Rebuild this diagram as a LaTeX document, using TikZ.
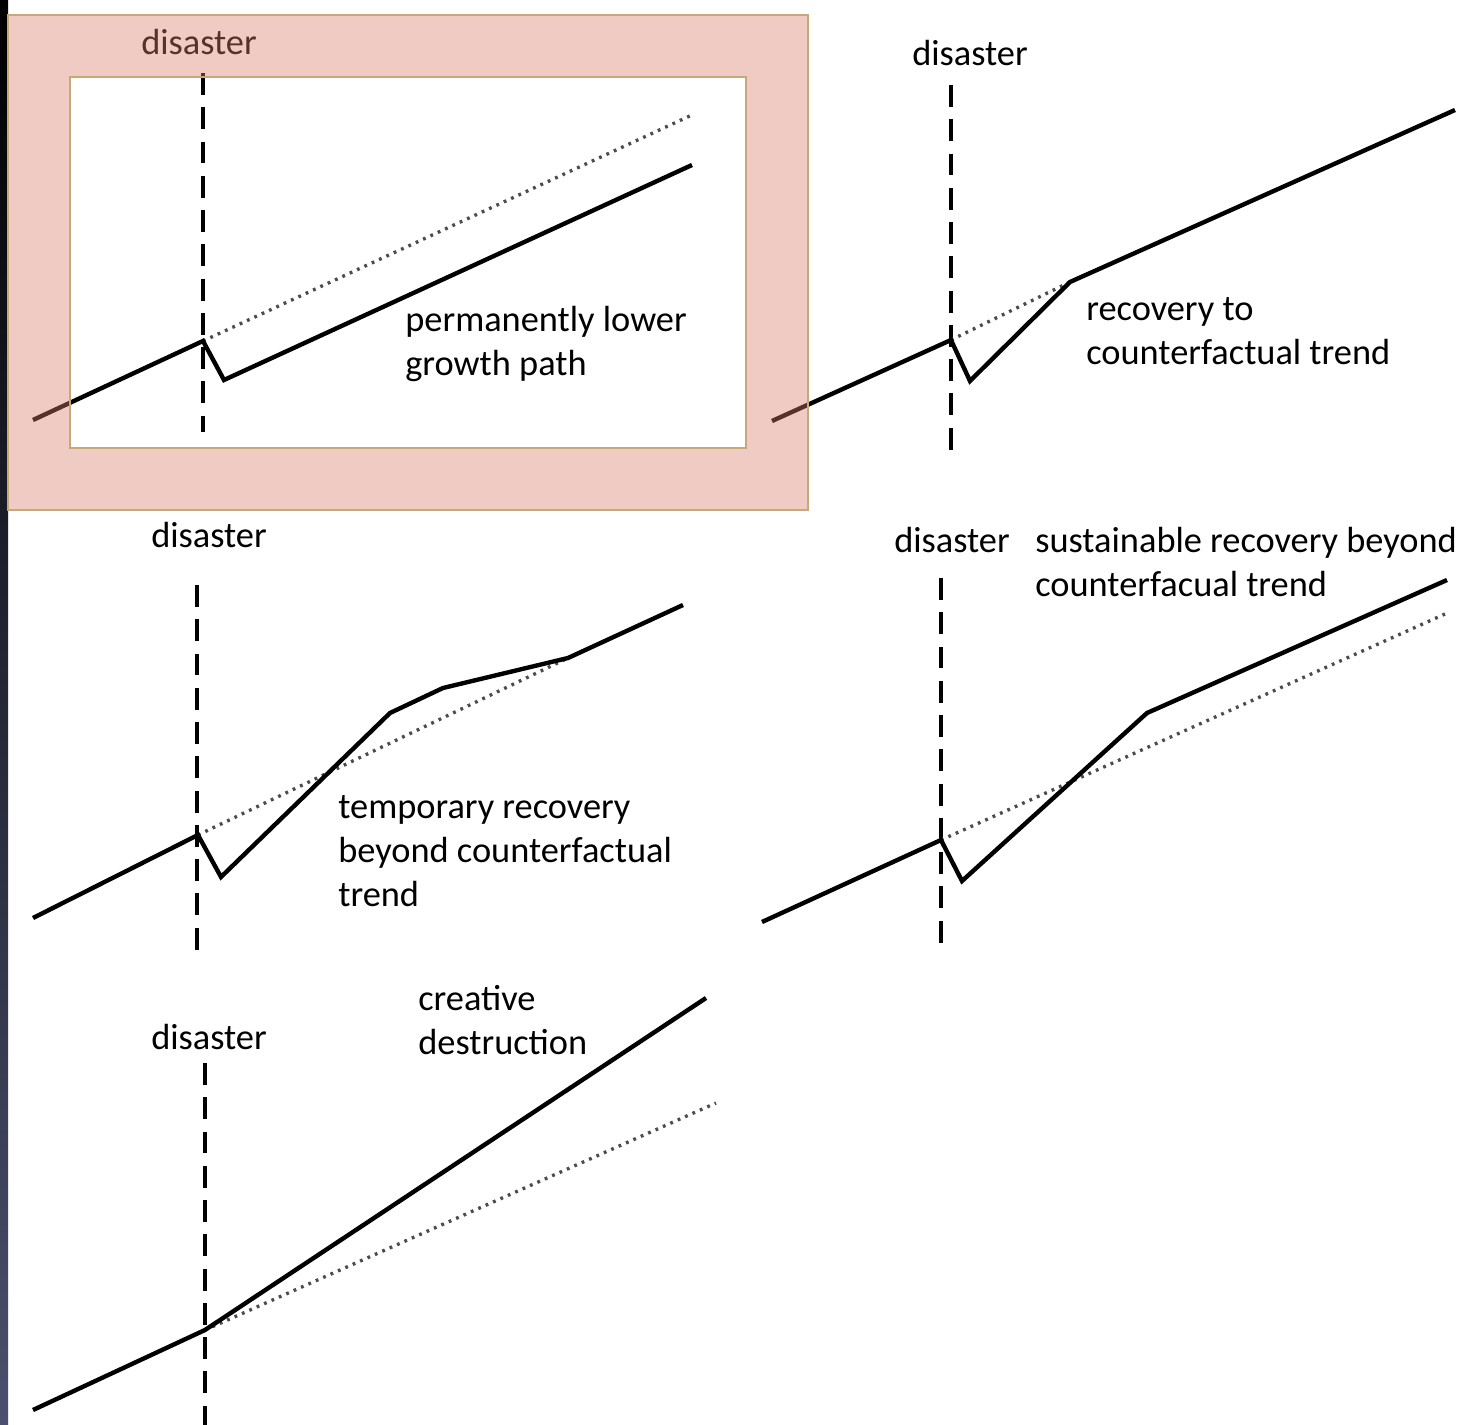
\documentclass[tikz,border=0pt]{standalone}
\usepackage{fontspec}
\setmainfont{Carlito}
\usetikzlibrary{positioning}

\definecolor{framepink}{RGB}{215,125,105}
\definecolor{frametan}{RGB}{200,168,120}
\definecolor{stripbot}{RGB}{75,80,110}

\begin{document}
\begin{tikzpicture}[
        x=0.02cm, y=-0.02cm,
        every node/.style={font=\fontsize{20.7}{25}\selectfont, inner sep=0pt},
        note/.style={align=left, anchor=north west},
        growth/.style={line width=2.5pt},
        trend/.style={line width=1.9pt, dash pattern=on 1.6pt off 3pt, black!70},
        shock/.style={line width=2.1pt, dash pattern=on 12.5pt off 7pt}
        ]
        \useasboundingbox (0,0) rectangle (1478,1425);
        \shade[top color=black, bottom color=stripbot] (0,0) rectangle (8,1425);

        % permanently lower growth path
        \coordinate (d1) at (203,341);
        \draw[shock] (203,73) -- (203,432);
        \draw[trend] (d1) -- (694,114);
        \draw[growth] (33,420) -- (d1) -- (224,380) -- (692,165);
        \node (dis1) at (199,42) {disaster};
        \node[note] (txt1) at (405,306) {permanently lower\\growth path};

        % recovery to trend
        \coordinate (d2) at (951,340);
        \coordinate (j2) at (1070,282);
        \draw[shock] (951,85) -- (951,450);
        \draw[trend] (d2) -- (j2);
        \draw[growth] (772,421) -- (d2) -- (970,381) -- (j2) -- (1455,110);
        \node (dis2) at (970,53) {disaster};
        \node[note] (txt2) at (1086,297) {recovery to\\counterfactual trend};

        % temporary recovery
        \coordinate (d3) at (198,835);
        \coordinate (j3) at (568,658);
        \draw[shock] (197,585) -- (197,955);
        \draw[trend] (d3) -- (j3);
        \draw[growth] (33,918) -- (d3) -- (221,877) -- (390,713) -- (443,688) -- (j3) -- (683,605);
        \node (dis3) at (209,535) {disaster};
        \node[note] (txt3) at (338,795) {temporary recovery\\beyond counterfactual\\trend};

        % sustainable recovery
        \coordinate (d4) at (941,840);
        \draw[shock] (941,578) -- (941,952);
        \draw[trend] (d4) -- (1445,614);
        \draw[growth] (762,922) -- (d4) -- (962,881) -- (1147,713) -- (1447,580);
        \node (dis4) at (952,540) {disaster};
        \node[note] (txt4) at (1035,527) {sustainable recovery beyond\\counterfacual trend};

        % creative destruction
        \coordinate (d5) at (205,1330);
        \draw[shock] (205,1063) -- (205,1425);
        \draw[trend] (d5) -- (716,1103);
        \draw[growth] (33,1410) -- (d5) -- (706,998);
        \node (dis5) at (209,1037) {disaster};
        \node[note] (txt5) at (418,985) {creative\\destruction};

        % highlight frame
        \fill[framepink, fill opacity=0.4, even odd rule] (8,15) rectangle (808,510) (70,77) rectangle (746,448);
        \draw[frametan, line width=0.9pt] (8,15) rectangle (808,510) (70,77) rectangle (746,448);
    \end{tikzpicture}
\end{document}
